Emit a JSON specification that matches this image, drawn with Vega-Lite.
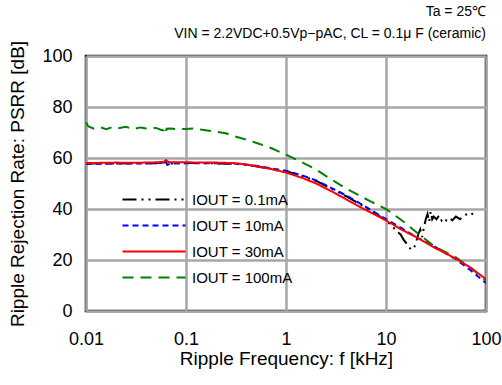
{
  "$schema": "https://vega.github.io/schema/vega-lite/v6.json",
  "width": 400,
  "height": 255,
  "autosize": {"type": "none"},
  "padding": {"left": 86, "top": 56, "right": 16, "bottom": 74},
  "background": "white",
  "config": {
    "font": "Liberation Sans",
    "view": {"stroke": "black", "strokeWidth": 2.5},
    "axis": {
      "domain": false,
      "ticks": false,
      "grid": true,
      "gridColor": "#a6a6a6",
      "gridWidth": 2.5,
      "labelFont": "Liberation Sans",
      "titleFont": "Liberation Sans",
      "labelFontSize": 18,
      "titleFontSize": 19,
      "titleFontWeight": "normal",
      "labelColor": "black",
      "titleColor": "black"
    }
  },
  "title": {
    "text": ["Ta = 25℃", "VIN = 2.2VDC+0.5Vp−pAC, CL = 0.1μ F (ceramic)"],
    "anchor": "end",
    "frame": "group",
    "font": "Liberation Sans",
    "fontSize": 14,
    "fontWeight": "normal",
    "lineHeight": 22,
    "color": "black",
    "offset": -1
  },
  "data": {
    "values": [
      {"f": 0.01, "psrr": 57.8, "series": "IOUT = 0.1mA"},
      {"f": 0.015, "psrr": 57.9, "series": "IOUT = 0.1mA"},
      {"f": 0.02, "psrr": 57.8, "series": "IOUT = 0.1mA"},
      {"f": 0.03, "psrr": 57.9, "series": "IOUT = 0.1mA"},
      {"f": 0.05, "psrr": 57.9, "series": "IOUT = 0.1mA"},
      {"f": 0.063, "psrr": 58.3, "series": "IOUT = 0.1mA"},
      {"f": 0.07, "psrr": 57.8, "series": "IOUT = 0.1mA"},
      {"f": 0.1, "psrr": 58.0, "series": "IOUT = 0.1mA"},
      {"f": 0.15, "psrr": 58.0, "series": "IOUT = 0.1mA"},
      {"f": 0.2, "psrr": 57.9, "series": "IOUT = 0.1mA"},
      {"f": 0.3, "psrr": 57.7, "series": "IOUT = 0.1mA"},
      {"f": 0.4, "psrr": 57.3, "series": "IOUT = 0.1mA"},
      {"f": 0.5, "psrr": 56.8, "series": "IOUT = 0.1mA"},
      {"f": 0.7, "psrr": 55.8, "series": "IOUT = 0.1mA"},
      {"f": 1, "psrr": 54.8, "series": "IOUT = 0.1mA"},
      {"f": 1.5, "psrr": 52.8, "series": "IOUT = 0.1mA"},
      {"f": 2, "psrr": 51.0, "series": "IOUT = 0.1mA"},
      {"f": 3, "psrr": 47.5, "series": "IOUT = 0.1mA"},
      {"f": 4, "psrr": 45.0, "series": "IOUT = 0.1mA"},
      {"f": 6, "psrr": 41.0, "series": "IOUT = 0.1mA"},
      {"f": 8, "psrr": 38.0, "series": "IOUT = 0.1mA"},
      {"f": 10, "psrr": 35.5, "series": "IOUT = 0.1mA"},
      {"f": 11, "psrr": 34.0, "series": "IOUT = 0.1mA"},
      {"f": 12, "psrr": 32.5, "series": "IOUT = 0.1mA"},
      {"f": 13, "psrr": 31.0, "series": "IOUT = 0.1mA"},
      {"f": 14, "psrr": 30.0, "series": "IOUT = 0.1mA"},
      {"f": 15, "psrr": 28.0, "series": "IOUT = 0.1mA"},
      {"f": 16, "psrr": 26.5, "series": "IOUT = 0.1mA"},
      {"f": 17, "psrr": 25.0, "series": "IOUT = 0.1mA"},
      {"f": 18, "psrr": 24.0, "series": "IOUT = 0.1mA"},
      {"f": 19, "psrr": 24.5, "series": "IOUT = 0.1mA"},
      {"f": 20, "psrr": 27.0, "series": "IOUT = 0.1mA"},
      {"f": 21, "psrr": 30.0, "series": "IOUT = 0.1mA"},
      {"f": 22, "psrr": 32.0, "series": "IOUT = 0.1mA"},
      {"f": 23, "psrr": 29.0, "series": "IOUT = 0.1mA"},
      {"f": 24, "psrr": 33.0, "series": "IOUT = 0.1mA"},
      {"f": 25, "psrr": 36.0, "series": "IOUT = 0.1mA"},
      {"f": 26, "psrr": 38.0, "series": "IOUT = 0.1mA"},
      {"f": 27, "psrr": 35.0, "series": "IOUT = 0.1mA"},
      {"f": 28, "psrr": 39.0, "series": "IOUT = 0.1mA"},
      {"f": 29, "psrr": 36.0, "series": "IOUT = 0.1mA"},
      {"f": 30, "psrr": 37.0, "series": "IOUT = 0.1mA"},
      {"f": 32, "psrr": 36.0, "series": "IOUT = 0.1mA"},
      {"f": 34, "psrr": 37.5, "series": "IOUT = 0.1mA"},
      {"f": 36, "psrr": 35.5, "series": "IOUT = 0.1mA"},
      {"f": 38, "psrr": 36.5, "series": "IOUT = 0.1mA"},
      {"f": 40, "psrr": 35.5, "series": "IOUT = 0.1mA"},
      {"f": 43, "psrr": 36.5, "series": "IOUT = 0.1mA"},
      {"f": 46, "psrr": 35.5, "series": "IOUT = 0.1mA"},
      {"f": 50, "psrr": 37.0, "series": "IOUT = 0.1mA"},
      {"f": 55, "psrr": 36.0, "series": "IOUT = 0.1mA"},
      {"f": 60, "psrr": 37.5, "series": "IOUT = 0.1mA"},
      {"f": 65, "psrr": 38.0, "series": "IOUT = 0.1mA"},
      {"f": 70, "psrr": 37.5, "series": "IOUT = 0.1mA"},
      {"f": 80, "psrr": 39.5, "series": "IOUT = 0.1mA"},

      {"f": 0.01, "psrr": 57.7, "series": "IOUT = 10mA"},
      {"f": 0.02, "psrr": 57.8, "series": "IOUT = 10mA"},
      {"f": 0.03, "psrr": 57.8, "series": "IOUT = 10mA"},
      {"f": 0.05, "psrr": 57.9, "series": "IOUT = 10mA"},
      {"f": 0.063, "psrr": 58.5, "series": "IOUT = 10mA"},
      {"f": 0.065, "psrr": 57.3, "series": "IOUT = 10mA"},
      {"f": 0.07, "psrr": 57.8, "series": "IOUT = 10mA"},
      {"f": 0.1, "psrr": 58.0, "series": "IOUT = 10mA"},
      {"f": 0.2, "psrr": 57.9, "series": "IOUT = 10mA"},
      {"f": 0.3, "psrr": 57.8, "series": "IOUT = 10mA"},
      {"f": 0.4, "psrr": 57.4, "series": "IOUT = 10mA"},
      {"f": 0.5, "psrr": 57.0, "series": "IOUT = 10mA"},
      {"f": 0.7, "psrr": 56.0, "series": "IOUT = 10mA"},
      {"f": 1, "psrr": 55.0, "series": "IOUT = 10mA"},
      {"f": 1.5, "psrr": 53.0, "series": "IOUT = 10mA"},
      {"f": 2, "psrr": 51.2, "series": "IOUT = 10mA"},
      {"f": 3, "psrr": 47.8, "series": "IOUT = 10mA"},
      {"f": 4, "psrr": 45.3, "series": "IOUT = 10mA"},
      {"f": 6, "psrr": 41.3, "series": "IOUT = 10mA"},
      {"f": 8, "psrr": 38.3, "series": "IOUT = 10mA"},
      {"f": 10, "psrr": 36.0, "series": "IOUT = 10mA"},
      {"f": 15, "psrr": 32.0, "series": "IOUT = 10mA"},
      {"f": 20, "psrr": 29.0, "series": "IOUT = 10mA"},
      {"f": 30, "psrr": 25.5, "series": "IOUT = 10mA"},
      {"f": 40, "psrr": 22.5, "series": "IOUT = 10mA"},
      {"f": 50, "psrr": 20.3, "series": "IOUT = 10mA"},
      {"f": 70, "psrr": 16.0, "series": "IOUT = 10mA"},
      {"f": 100, "psrr": 11.0, "series": "IOUT = 10mA"},

      {"f": 0.01, "psrr": 74.0, "series": "IOUT = 100mA"},
      {"f": 0.0105, "psrr": 72.5, "series": "IOUT = 100mA"},
      {"f": 0.012, "psrr": 71.5, "series": "IOUT = 100mA"},
      {"f": 0.014, "psrr": 72.0, "series": "IOUT = 100mA"},
      {"f": 0.016, "psrr": 71.3, "series": "IOUT = 100mA"},
      {"f": 0.018, "psrr": 72.0, "series": "IOUT = 100mA"},
      {"f": 0.02, "psrr": 71.5, "series": "IOUT = 100mA"},
      {"f": 0.025, "psrr": 72.2, "series": "IOUT = 100mA"},
      {"f": 0.03, "psrr": 71.4, "series": "IOUT = 100mA"},
      {"f": 0.035, "psrr": 72.0, "series": "IOUT = 100mA"},
      {"f": 0.04, "psrr": 71.6, "series": "IOUT = 100mA"},
      {"f": 0.05, "psrr": 71.8, "series": "IOUT = 100mA"},
      {"f": 0.055, "psrr": 71.2, "series": "IOUT = 100mA"},
      {"f": 0.06, "psrr": 70.8, "series": "IOUT = 100mA"},
      {"f": 0.062, "psrr": 69.3, "series": "IOUT = 100mA"},
      {"f": 0.064, "psrr": 71.5, "series": "IOUT = 100mA"},
      {"f": 0.07, "psrr": 71.6, "series": "IOUT = 100mA"},
      {"f": 0.08, "psrr": 71.3, "series": "IOUT = 100mA"},
      {"f": 0.1, "psrr": 71.4, "series": "IOUT = 100mA"},
      {"f": 0.12, "psrr": 71.6, "series": "IOUT = 100mA"},
      {"f": 0.15, "psrr": 71.0, "series": "IOUT = 100mA"},
      {"f": 0.2, "psrr": 70.3, "series": "IOUT = 100mA"},
      {"f": 0.25, "psrr": 69.7, "series": "IOUT = 100mA"},
      {"f": 0.3, "psrr": 68.6, "series": "IOUT = 100mA"},
      {"f": 0.4, "psrr": 67.2, "series": "IOUT = 100mA"},
      {"f": 0.5, "psrr": 66.0, "series": "IOUT = 100mA"},
      {"f": 0.7, "psrr": 64.0, "series": "IOUT = 100mA"},
      {"f": 1, "psrr": 61.3, "series": "IOUT = 100mA"},
      {"f": 1.5, "psrr": 58.0, "series": "IOUT = 100mA"},
      {"f": 2, "psrr": 55.5, "series": "IOUT = 100mA"},
      {"f": 3, "psrr": 51.0, "series": "IOUT = 100mA"},
      {"f": 4, "psrr": 48.0, "series": "IOUT = 100mA"},
      {"f": 5, "psrr": 46.0, "series": "IOUT = 100mA"},
      {"f": 7, "psrr": 43.0, "series": "IOUT = 100mA"},
      {"f": 10, "psrr": 40.0, "series": "IOUT = 100mA"},
      {"f": 15, "psrr": 35.0, "series": "IOUT = 100mA"},
      {"f": 20, "psrr": 31.0, "series": "IOUT = 100mA"},
      {"f": 30, "psrr": 25.5, "series": "IOUT = 100mA"},
      {"f": 40, "psrr": 23.0, "series": "IOUT = 100mA"},
      {"f": 50, "psrr": 21.0, "series": "IOUT = 100mA"},
      {"f": 70, "psrr": 17.0, "series": "IOUT = 100mA"},
      {"f": 100, "psrr": 12.0, "series": "IOUT = 100mA"},

      {"f": 0.01, "psrr": 58.0, "series": "IOUT = 30mA"},
      {"f": 0.02, "psrr": 58.2, "series": "IOUT = 30mA"},
      {"f": 0.03, "psrr": 58.1, "series": "IOUT = 30mA"},
      {"f": 0.05, "psrr": 58.3, "series": "IOUT = 30mA"},
      {"f": 0.06, "psrr": 58.5, "series": "IOUT = 30mA"},
      {"f": 0.063, "psrr": 59.2, "series": "IOUT = 30mA"},
      {"f": 0.066, "psrr": 58.5, "series": "IOUT = 30mA"},
      {"f": 0.07, "psrr": 58.3, "series": "IOUT = 30mA"},
      {"f": 0.1, "psrr": 58.3, "series": "IOUT = 30mA"},
      {"f": 0.2, "psrr": 58.2, "series": "IOUT = 30mA"},
      {"f": 0.3, "psrr": 58.0, "series": "IOUT = 30mA"},
      {"f": 0.4, "psrr": 57.5, "series": "IOUT = 30mA"},
      {"f": 0.5, "psrr": 56.8, "series": "IOUT = 30mA"},
      {"f": 0.7, "psrr": 55.7, "series": "IOUT = 30mA"},
      {"f": 1, "psrr": 54.3, "series": "IOUT = 30mA"},
      {"f": 1.5, "psrr": 52.0, "series": "IOUT = 30mA"},
      {"f": 2, "psrr": 50.0, "series": "IOUT = 30mA"},
      {"f": 3, "psrr": 46.5, "series": "IOUT = 30mA"},
      {"f": 4, "psrr": 43.8, "series": "IOUT = 30mA"},
      {"f": 6, "psrr": 40.0, "series": "IOUT = 30mA"},
      {"f": 8, "psrr": 37.5, "series": "IOUT = 30mA"},
      {"f": 10, "psrr": 35.5, "series": "IOUT = 30mA"},
      {"f": 15, "psrr": 31.5, "series": "IOUT = 30mA"},
      {"f": 20, "psrr": 29.0, "series": "IOUT = 30mA"},
      {"f": 30, "psrr": 25.0, "series": "IOUT = 30mA"},
      {"f": 40, "psrr": 22.5, "series": "IOUT = 30mA"},
      {"f": 50, "psrr": 20.5, "series": "IOUT = 30mA"},
      {"f": 70, "psrr": 17.0, "series": "IOUT = 30mA"},
      {"f": 100, "psrr": 12.5, "series": "IOUT = 30mA"}
    ]
  },
  "mark": {"type": "line", "strokeWidth": 2, "clip": true},
  "encoding": {
    "x": {
      "field": "f",
      "type": "quantitative",
      "scale": {"type": "log", "domain": [0.01, 100], "nice": false},
      "axis": {
        "values": [0.01, 0.1, 1, 10, 100],
        "format": "~g",
        "labelPadding": 19,
        "title": "Ripple Frequency: f [kHz]",
        "titlePadding": 1,
        "labelFlush": false
      }
    },
    "y": {
      "field": "psrr",
      "type": "quantitative",
      "scale": {"domain": [0, 100], "nice": false},
      "axis": {
        "values": [0, 20, 40, 60, 80, 100],
        "labelPadding": 14,
        "title": "Ripple Rejection Rate: PSRR [dB]",
        "titlePadding": 14,
        "labelFlush": false
      }
    },
    "color": {
      "field": "series",
      "type": "nominal",
      "sort": ["IOUT = 0.1mA", "IOUT = 10mA", "IOUT = 30mA", "IOUT = 100mA"],
      "scale": {
        "domain": ["IOUT = 0.1mA", "IOUT = 10mA", "IOUT = 30mA", "IOUT = 100mA"],
        "range": ["#000000", "#0000ff", "#ff0000", "#008000"]
      },
      "legend": {
        "title": null,
        "orient": "none",
        "legendX": 60.5,
        "legendY": 136,
        "symbolType": "M-6.3,0H6.3",
        "symbolSize": 100,
        "symbolStrokeWidth": 2,
        "symbolFillColor": "transparent",
        "labelFontSize": 15,
        "labelFont": "Liberation Sans",
        "labelColor": "black",
        "labelOffset": 30.5,
        "rowPadding": 10,
        "padding": 0
      }
    },
    "strokeDash": {
      "field": "series",
      "type": "nominal",
      "sort": ["IOUT = 0.1mA", "IOUT = 10mA", "IOUT = 30mA", "IOUT = 100mA"],
      "scale": {
        "domain": ["IOUT = 0.1mA", "IOUT = 10mA", "IOUT = 30mA", "IOUT = 100mA"],
        "range": [[14, 5, 2, 5, 2, 5], [6, 4], [1, 0], [11, 7]]
      }
    },
    "order": {"field": "f", "type": "quantitative"}
  }
}
